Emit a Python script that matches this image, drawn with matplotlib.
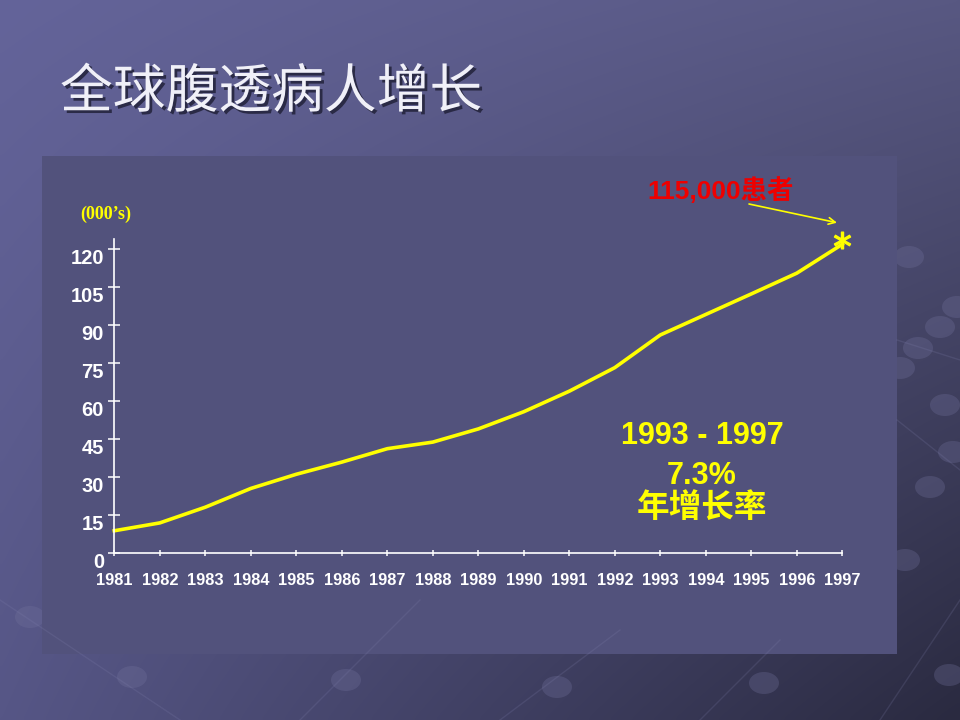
import numpy as np
import matplotlib
matplotlib.use("Agg")
import matplotlib.pyplot as plt
from matplotlib.patches import Rectangle, Ellipse
from matplotlib.transforms import ScaledTranslation
import matplotlib.patheffects as pe

# ---- data ----
years = list(range(1981, 1998))
patients = [8.9, 12.0, 18.2, 25.6, 31.2, 36.0, 41.3, 43.9, 49.1, 55.9,
            64.0, 73.3, 86.2, 94.3, 102.4, 110.6, 122.0]
y_ticks = [0, 15, 30, 45, 60, 75, 90, 105, 120]
title = "全球腹透病人增长"
unit_label = "(000’s)"
callout = "115,000患者"
growth_lines = ["1993 - 1997", "7.3%", "年增长率"]

W, H = 960, 720
fig = plt.figure(figsize=(W / 100, H / 100), dpi=100)

def fx(x):
    return x / W

def fy(y):
    return 1 - y / H

# ---- slide background gradient ----
bg = fig.add_axes([0, 0, 1, 1], zorder=-10)
bg.set_axis_off()
tl = np.array([100, 100, 154]) / 255
tr = np.array([88, 88, 130]) / 255
bl = np.array([86, 86, 134]) / 255
br = np.array([42, 42, 64]) / 255
u = np.linspace(0, 1, 240)[None, :, None]
v = np.linspace(0, 1, 180)[:, None, None]
img = (1 - v) * ((1 - u) * tl + u * tr) + v * ((1 - u) * bl + u * br)
bg.imshow(img, extent=[0, W, H, 0], aspect="auto", interpolation="bicubic")
bg.set_xlim(0, W)
bg.set_ylim(H, 0)

# decorative spheres and faint lines
spheres = [(132, 677), (346, 680), (557, 687), (764, 683), (949, 675), (30, 617),
           (909, 257), (957, 307), (940, 327), (918, 348), (900, 368),
           (953, 452), (930, 487), (945, 405), (905, 560)]
for (sx, sy) in spheres:
    bg.add_patch(Ellipse((sx, sy), 30, 22, color=(0.45, 0.45, 0.62), alpha=0.3, lw=0))
lines = [((0, 600), (180, 720)), ((300, 720), (420, 600)), ((500, 720), (620, 630)),
         ((700, 720), (780, 640)), ((880, 720), (960, 600)), ((897, 340), (960, 360)),
         ((897, 420), (960, 470))]
for (a, b) in lines:
    bg.plot([a[0], b[0]], [a[1], b[1]], color=(0.5, 0.5, 0.68), alpha=0.2, lw=1)

# chart panel
bg.add_patch(Rectangle((42, 156), 855, 498, color=(82 / 255, 82 / 255, 124 / 255), lw=0))

# ---- title ----
fig.text(fx(271), fy(92), title, ha="center", va="center", fontsize=38,
         family=["Noto Sans CJK SC", "DejaVu Sans"], color="#f0f0f8",
         path_effects=[pe.withSimplePatchShadow(offset=(2, -2), shadow_rgbFace="#1e1e34", alpha=0.8)])

# ---- chart axes ----
x0, x1 = 114.3, 842.3
y0 = 553.3
ppu = 2.533
ymax = 124
ax = fig.add_axes([fx(x0), fy(y0), (x1 - x0) / W, (ymax * ppu) / H])
ax.set_facecolor("none")
ax.set_xlim(1981, 1997)
ax.set_ylim(0, ymax)
for s in ["top", "right"]:
    ax.spines[s].set_visible(False)
for s in ["left", "bottom"]:
    ax.spines[s].set_color("white")
    ax.spines[s].set_linewidth(1.2)

ax.plot(years, patients, color="#ffff00", lw=2.6, clip_on=False, solid_joinstyle="round")
star_tr = ax.transData + ScaledTranslation(0, 4 / 100, fig.dpi_scale_trans)
ax.plot(years[-1:], patients[-1:], ls="none", marker="$*$", ms=12, color="#ffff00",
        clip_on=False, transform=star_tr)

ax.set_xticks(years)
ax.set_xticklabels([str(y) for y in years])
ax.set_yticks(y_ticks)
ax.set_yticklabels([str(t) for t in y_ticks])
ax.tick_params(axis="x", direction="inout", length=5, width=1.1, color="white",
               labelcolor="white", labelsize=11.8, pad=12)
ax.tick_params(axis="y", direction="inout", length=8.6, width=1.1, color="white",
               labelcolor="white", labelsize=14.5, pad=3.2)
for lab in ax.get_xticklabels():
    lab.set_fontfamily("Liberation Sans")
    lab.set_fontweight("bold")
for lab in ax.get_yticklabels():
    lab.set_fontfamily("Liberation Sans")
    lab.set_fontweight("bold")
    lab.set_transform(lab.get_transform() + ScaledTranslation(0, -7 / 100, fig.dpi_scale_trans))

# unit label
fig.text(fx(106), fy(214), unit_label, ha="center", va="center", fontsize=13,
         family="Liberation Serif", weight="bold", color="#ffff00")

# callout
fig.text(fx(721), fy(191), callout, ha="center", va="center", fontsize=19,
         family=["Liberation Sans", "Noto Sans CJK SC"], weight="bold", color="#ee0000")
fig.add_artist(matplotlib.text.Annotation(
    "", xy=(837, H - 222.7), xytext=(749, H - 204), xycoords="figure pixels",
    textcoords="figure pixels",
    arrowprops=dict(arrowstyle="->", color="#ffff00", lw=1.2, mutation_scale=12,
                    shrinkA=0, shrinkB=0)))

# growth annotation
centers = [436, 476, 508]
sizes = [22, 22, 23.5]
for txt, cy, fs in zip(growth_lines, centers, sizes):
    fig.text(fx(702), fy(cy), txt, ha="center", va="center", fontsize=fs,
             family=["Liberation Sans", "Noto Sans CJK SC"], weight="bold", color="#ffff00")

fig.savefig("out.png", dpi=100)
